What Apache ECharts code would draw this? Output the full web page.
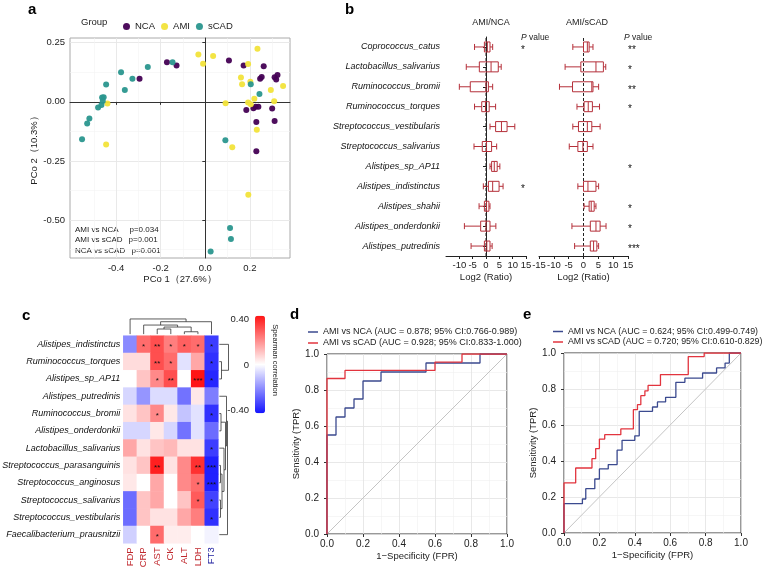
<!DOCTYPE html>
<html><head><meta charset="utf-8">
<script src="https://cdn.jsdelivr.net/npm/echarts@6/dist/echarts.min.js"></script>
<style>html,body{margin:0;padding:0;background:#fff}#c{width:765px;height:570px}</style>
</head><body><div id="c"></div>
<script>
const FONT = '"Liberation Sans", Arial, sans-serif';

// ---------- Panel a: PCoA ----------
const groups = ['NCA', 'AMI', 'sCAD'];
const ncaX = [-0.172,-0.129,-0.295,0.106,0.172,0.262,0.246,0.253,0.311,0.324,0.318,0.184,0.216,0.226,0.238,0.300,0.229,0.311,0.229];
const ncaY = [0.167,0.154,0.098,0.175,0.154,0.151,0.098,0.105,0.104,0.114,0.095,-0.034,-0.027,-0.021,-0.021,-0.028,-0.085,-0.081,-0.209];
const amiX = [-0.031,-0.010,0.035,0.234,0.192,0.160,0.165,0.202,0.349,0.294,0.309,0.091,0.192,0.204,0.220,0.231,-0.439,-0.445,0.121,0.193];
const amiY = [0.200,0.161,0.194,0.225,0.160,0.103,0.074,0.085,0.067,0.050,0.003,-0.006,-0.003,-0.010,0.013,-0.118,-0.007,-0.180,-0.192,-0.393];
const scadX = [-0.147,-0.258,-0.378,-0.327,-0.445,-0.361,-0.463,-0.456,-0.460,-0.481,-0.466,-0.520,-0.530,-0.553,0.090,0.204,0.243,0.111,0.115,0.024];
const scadY = [0.167,0.147,0.125,0.098,0.073,0.050,0.018,0.020,0.004,-0.024,-0.013,-0.070,-0.091,-0.158,-0.162,0.074,0.033,-0.533,-0.580,-0.632];
const pcoXMajor = [-0.4,-0.2,0,0.2];
const pcoXMinor = [-0.5,-0.3,-0.1,0.1,0.3];
const pcoYMajor = [-0.5,-0.25,0,0.25];
const pcoYMinor = [-0.625,-0.375,-0.125,0.125];
const permTests = ['AMI vs NCA','AMI vs sCAD','NCA vs sCAD'];
const permP = ['p=0.034','p=0.001','p=0.001'];

// ---------- Panel b: log2 ratio boxes ----------
const species = ['Coprococcus_catus','Lactobacillus_salivarius','Ruminococcus_bromii','Ruminococcus_torques','Streptococcus_vestibularis','Streptococcus_salivarius','Alistipes_sp_AP11','Alistipes_indistinctus','Alistipes_shahii','Alistipes_onderdonkii','Alistipes_putredinis'];
// [min, Q1, median, Q3, max]
const boxAmiNca = [[-4.3,-0.6,0.5,1.5,2.5],[-7.4,-2.5,1.9,4.6,5.7],[-10,-5.9,0,0.9,2.5],[-4.3,-1.6,-0.2,1.2,3.6],[1.5,3.6,5.8,7.9,10.8],[-4.5,-1.4,0.2,2.1,4],[1.5,2.1,3.1,4.2,5.2],[-1,0.9,2.5,4.9,6.4],[-2.6,-0.6,0.2,1.1,1.5],[-8.1,-2,0,1.5,3.7],[-5.6,-0.6,0.3,1.5,2.3]];
const boxAmiScad = [[-3.6,0,1.3,1.9,3.2],[-6.2,-0.9,4.2,6.7,7.5],[-8.1,-3.7,2.8,3.2,5.1],[-2.2,0.2,1.6,3,5.4],[-3.6,-1.7,1.3,2.8,5.6],[-4.8,-1.9,-0.2,1.3,3.2],null,[-1.9,0,1.5,4.2,5.1],[0.2,1.9,2.6,3.6,4.2],[-3.9,2.3,4.2,5.6,7.6],[-3,2.3,3.4,4.5,5.1]];
const starsAmiNca = ['*','','','','','','','*','','',''];
const starsAmiScad = ['**','*','**','*','','','*','','*','*','***'];

// ---------- Panel c: heatmap ----------
const hmRows = ['Alistipes_indistinctus','Ruminococcus_torques','Alistipes_sp_AP11','Alistipes_putredinis','Ruminococcus_bromii','Alistipes_onderdonkii','Lactobacillus_salivarius','Streptococcus_parasanguinis','Streptococcus_anginosus','Streptococcus_salivarius','Streptococcus_vestibularis','Faecalibacterium_prausnitzii'];
const hmCols = ['FDP','CRP','AST','CK','ALT','LDH','FT3'];
const hmValues = [
 [-0.20, 0.25, 0.30, 0.22, 0.27, 0.25,-0.33],
 [ 0.06, 0.06, 0.30, 0.25,-0.05, 0.15,-0.35],
 [ 0.00, 0.10, 0.20, 0.30, 0.00, 0.40,-0.37],
 [-0.07,-0.18,-0.06,-0.06,-0.24, 0.04,-0.22],
 [ 0.05, 0.10, 0.20, 0.04,-0.10,-0.05,-0.35],
 [-0.07,-0.07, 0.04,-0.07,-0.24,-0.05,-0.25],
 [ 0.15, 0.05, 0.10, 0.12, 0.05, 0.05,-0.33],
 [ 0.05, 0.10, 0.38, 0.05, 0.20, 0.35,-0.38],
 [ 0.04, 0.00, 0.15, 0.00, 0.20, 0.25,-0.38],
 [-0.25, 0.10, 0.15, 0.00, 0.10, 0.28,-0.32],
 [-0.25, 0.10, 0.05, 0.05, 0.15, 0.22,-0.35],
 [-0.08, 0.00, 0.25, 0.03, 0.03, 0.00,-0.02]
];
const hmStars = [
 ['','*','**','*','*','*','*'],
 ['','','**','*','','','*'],
 ['','','*','**','','***','*'],
 ['','','','','','',''],
 ['','','*','','','','*'],
 ['','','','','','',''],
 ['','','','','','','*'],
 ['','','**','','','**','***'],
 ['','','','','','*','***'],
 ['','','','','','*','*'],
 ['','','','','','','*'],
 ['','','*','','','','']
];
const colorbarTicks = ['0.40','0','-0.40'];
// dendrogram links: [posA, heightA, posB, heightB, mergeHeight]
const colDendro = [[2.5,0.8,3.5,0.8,3.4],[4.5,0.8,5.5,0.8,2.0],[3.0,3.4,5.0,2.0,4.4],[1.5,0.8,4.0,4.4,5.4],[2.75,5.4,6.5,0.8,7.1],[0.5,0.8,4.625,7.1,8.5]];
const rowDendro = [[1.5,0.3,2.5,0.3,2.5],[0.5,0.3,2.0,2.5,9.5],[4.5,0.3,5.5,0.3,2.0],[7.5,0.3,8.5,0.3,1.5],[9.5,0.3,10.5,0.3,1.5],[8.0,1.5,10.0,1.5,3.0],[6.5,0.3,9.0,3.0,5.0],[5.0,2.0,7.75,5.0,6.5],[3.5,0.3,6.375,6.5,7.5],[4.94,7.5,11.5,0.3,8.5]];

// ---------- Panels d, e: ROC ----------
const rocNames = {
  dNca: 'AMI vs NCA (AUC = 0.878; 95% CI:0.766-0.989)',
  dScad: 'AMI vs sCAD (AUC = 0.928; 95% CI:0.833-1.000)',
  eNca: 'AMI vs NCA (AUC = 0.624; 95% CI:0.499-0.749)',
  eScad: 'AMI vs sCAD (AUC = 0.720; 95% CI:0.610-0.829)'
};
const dNcaFpr = [0,0,0.05,0.1,0.15,0.2,0.3,0.55,0.85,1.0];
const dNcaTpr = [0,0.55,0.65,0.7,0.75,0.85,0.9,0.95,1.0,1.0];
const dScadFpr = [0,0,0.1,0.6,0.75,1.0];
const dScadTpr = [0,0.864,0.909,0.955,1.0,1.0];
const eNcaFpr = [0,0,0.104,0.123,0.174,0.2,0.25,0.3,0.328,0.4,0.425,0.5,0.528,0.574,0.632,0.683,0.783,0.862,0.91,0.934,1.0];
const eNcaTpr = [0,0.163,0.189,0.246,0.3,0.356,0.38,0.46,0.515,0.54,0.676,0.7,0.728,0.754,0.837,0.86,0.889,0.917,0.944,1.0,1.0];
const eScadFpr = [0,0,0.066,0.158,0.179,0.2,0.23,0.321,0.392,0.415,0.434,0.457,0.475,0.545,0.702,0.792,1.0];
const eScadTpr = [0,0.278,0.361,0.413,0.469,0.522,0.546,0.578,0.685,0.713,0.763,0.79,0.82,0.88,0.98,1.0,1.0];

// ---------- helpers ----------
const zip = (a, b) => a.map((v, i) => [v, b[i]]);
function steps(fx, ty) {
  const pts = [[fx[0], ty[0]]];
  for (let k = 1; k < fx.length; k++) { pts.push([fx[k], ty[k - 1]]); pts.push([fx[k], ty[k]]); }
  return pts;
}
const BOXC = '#B5303A';
function boxRenderer(boxes, stars, starDx) {
  return function (params, api) {
    const i = api.value(1);
    const b = boxes[i];
    const cs = params.coordSys;
    const yc = api.coord([0, i])[1];
    const st = { stroke: BOXC, lineWidth: 1, fill: 'none' };
    const ch = [];
    if (b) {
      const p = b.map(v => api.coord([v, i])[0]);
      const h = 10, cap = 6;
      ch.push({ type: 'line', shape: { x1: p[0], y1: yc, x2: p[1], y2: yc }, style: st });
      ch.push({ type: 'line', shape: { x1: p[3], y1: yc, x2: p[4], y2: yc }, style: st });
      ch.push({ type: 'line', shape: { x1: p[0], y1: yc - cap / 2, x2: p[0], y2: yc + cap / 2 }, style: st });
      ch.push({ type: 'line', shape: { x1: p[4], y1: yc - cap / 2, x2: p[4], y2: yc + cap / 2 }, style: st });
      ch.push({ type: 'rect', shape: { x: p[1], y: yc - h / 2, width: p[3] - p[1], height: h }, style: st });
      ch.push({ type: 'line', shape: { x1: p[2], y1: yc - h / 2, x2: p[2], y2: yc + h / 2 }, style: st });
    }
    if (stars[i]) {
      ch.push({ type: 'text', x: cs.x + cs.width + starDx, y: yc + 3,
        style: { text: stars[i], fill: '#111', fontSize: 10, fontFamily: FONT, align: 'left', verticalAlign: 'middle' } });
    }
    return { type: 'group', children: ch };
  };
}
function topLinks(links) { return links.map(l => ({ coords: [[l[0], l[1]], [l[0], l[4]], [l[2], l[4]], [l[2], l[3]]] })); }
function sideLinks(links) { return links.map(l => ({ coords: [[l[1], l[0]], [l[4], l[0]], [l[4], l[2]], [l[3], l[2]]] })); }

const txt = (s, x, y, extra) => Object.assign({ type: 'text', x, y, silent: true,
  style: Object.assign({ text: s, fill: '#222', fontSize: 9.5, fontFamily: FONT, align: 'left', verticalAlign: 'middle' }, extra || {}) });

const hmData = [];
hmValues.forEach((row, r) => row.forEach((v, c) => hmData.push([c, r, v])));

const gridBase = { containLabel: false, outerBoundsMode: 'none' };
const rocAxisX = (gi, nm) => ({
  gridIndex: gi, type: 'value', min: 0, max: 1, interval: 0.2,
  axisLine: { show: false }, axisTick: { show: true, length: 3, lineStyle: { color: '#333' } },
  axisLabel: { formatter: v => v.toFixed(1), fontSize: 10, color: '#222', margin: 5 },
  splitLine: { show: true, lineStyle: { color: '#e2e2e2', width: 0.8 } },
  minorTick: { show: false, splitNumber: 2 }, minorSplitLine: { show: true, lineStyle: { color: '#f0f0f0', width: 0.6 } },
  name: nm, nameLocation: 'middle', nameGap: 17, nameTextStyle: { fontSize: 9.5, color: '#222' }
});
const rocAxisY = (gi, nm) => ({
  gridIndex: gi, type: 'value', min: 0, max: 1, interval: 0.2,
  axisLine: { show: false }, axisTick: { show: true, length: 3, lineStyle: { color: '#333' } },
  axisLabel: { formatter: v => v.toFixed(1), fontSize: 10, color: '#222', margin: 8 },
  splitLine: { show: true, lineStyle: { color: '#e2e2e2', width: 0.8 } },
  minorTick: { show: false, splitNumber: 2 }, minorSplitLine: { show: true, lineStyle: { color: '#f0f0f0', width: 0.6 } },
  name: nm, nameLocation: 'middle', nameGap: 24, nameTextStyle: { fontSize: 9.5, color: '#222' }
});
const NAVY = '#3B4A8F', RED = '#E2343E';
const rocLine = (nm, xi, pts, color) => ({ type: 'line', name: nm, xAxisIndex: xi, yAxisIndex: xi + 2, data: pts, symbol: 'none',
  lineStyle: { color, width: 1.3 }, itemStyle: { color }, animation: false, z: 5 });

const option = {
  animation: false,
  backgroundColor: '#fff',
  textStyle: { fontFamily: FONT },
  grid: [
    Object.assign({ left: 70, top: 38, width: 220, height: 220, show: true, borderColor: '#aaa', borderWidth: 1 }, gridBase),
    Object.assign({ left: 446, top: 37, width: 80, height: 219 }, gridBase),
    Object.assign({ left: 539, top: 37, width: 89, height: 219 }, gridBase),
    Object.assign({ left: 123.3, top: 335.7, width: 95, height: 207.6 }, gridBase),
    Object.assign({ left: 123.3, top: 316, width: 95, height: 19.7 }, gridBase),
    Object.assign({ left: 219, top: 335.7, width: 10, height: 207.6 }, gridBase),
    Object.assign({ left: 327, top: 354, width: 180, height: 180, show: true, borderColor: '#333', borderWidth: 1 }, gridBase),
    Object.assign({ left: 564, top: 353, width: 177, height: 180, show: true, borderColor: '#333', borderWidth: 1 }, gridBase)
  ],
  xAxis: [
    { gridIndex: 0, type: 'value', min: -0.607, max: 0.38,
      axisLine: { show: true, lineStyle: { color: '#333' } },
      axisTick: { show: true, length: 3, customValues: pcoXMajor, lineStyle: { color: '#333' } },
      axisLabel: { customValues: pcoXMajor, formatter: v => v.toFixed(1), fontSize: 9.5, color: '#222', margin: 5 },
      splitLine: { show: true, lineStyle: { color: '#e6e6e6', width: 0.9 } },
      name: 'PCo 1（27.6%）', nameLocation: 'middle', nameGap: 16, nameTextStyle: { fontSize: 9.5, color: '#222' } },
    { gridIndex: 0, type: 'value', min: -0.607, max: 0.38, position: 'bottom',
      axisLine: { show: false }, axisTick: { show: false, customValues: pcoXMinor }, axisLabel: { show: false, customValues: pcoXMinor },
      splitLine: { show: true, lineStyle: { color: '#f3f3f3', width: 0.6 } } },
    { gridIndex: 1, type: 'value', min: -15, max: 15, interval: 5,
      axisLine: { show: true, lineStyle: { color: '#222' } }, axisTick: { show: true, length: 3, lineStyle: { color: '#222' } },
      axisLabel: { fontSize: 9.5, color: '#222', margin: 4, hideOverlap: false }, splitLine: { show: false },
      name: 'Log2 (Ratio)', nameLocation: 'middle', nameGap: 16, nameTextStyle: { fontSize: 9.5, color: '#222' } },
    { gridIndex: 2, type: 'value', min: -15, max: 15, interval: 5,
      axisLine: { show: true, lineStyle: { color: '#222' } }, axisTick: { show: true, length: 3, lineStyle: { color: '#222' } },
      axisLabel: { fontSize: 9.5, color: '#222', margin: 4, hideOverlap: false }, splitLine: { show: false },
      name: 'Log2 (Ratio)', nameLocation: 'middle', nameGap: 16, nameTextStyle: { fontSize: 9.5, color: '#222' } },
    { gridIndex: 3, type: 'category', data: hmCols, position: 'bottom',
      axisLine: { show: false }, axisTick: { show: false },
      axisLabel: { rotate: 90, margin: 4, interval: 0, hideOverlap: false,
        formatter: v => (v === 'FT3' ? '{b|' + v + '}' : '{r|' + v + '}'),
        rich: { r: { color: '#C0282D', fontSize: 9.5, fontFamily: FONT }, b: { color: '#2222A0', fontSize: 9.5, fontFamily: FONT } } } },
    { gridIndex: 4, type: 'value', min: 0, max: 7, show: false },
    { gridIndex: 5, type: 'value', min: 0, max: 10, show: false },
    rocAxisX(6, '1−Specificity (FPR)'),
    rocAxisX(7, '1−Specificity (FPR)')
  ],
  yAxis: [
    { gridIndex: 0, type: 'value', min: -0.66, max: 0.27,
      axisLine: { show: true, lineStyle: { color: '#333' } },
      axisTick: { show: true, length: 3, customValues: pcoYMajor, lineStyle: { color: '#333' } },
      axisLabel: { customValues: pcoYMajor, formatter: v => v.toFixed(2), fontSize: 9.5, color: '#222', margin: 5 },
      splitLine: { show: true, lineStyle: { color: '#e6e6e6', width: 0.9 } },
      name: 'PCo 2（10.3%）', nameLocation: 'middle', nameGap: 27, nameTextStyle: { fontSize: 9.5, color: '#222' } },
    { gridIndex: 0, type: 'value', min: -0.66, max: 0.27, position: 'left',
      axisLine: { show: false }, axisTick: { show: false, customValues: pcoYMinor }, axisLabel: { show: false, customValues: pcoYMinor },
      splitLine: { show: true, lineStyle: { color: '#f3f3f3', width: 0.6 } } },
    { gridIndex: 1, type: 'category', data: species, inverse: true,
      axisLine: { show: true, lineStyle: { color: '#222' } }, axisTick: { show: true, length: 3, alignWithLabel: true, lineStyle: { color: '#222' } },
      axisLabel: { fontStyle: 'italic', fontSize: 9, color: '#111', margin: 6, interval: 0 } },
    { gridIndex: 1, type: 'value', min: 0, max: 1, show: false },
    { gridIndex: 2, type: 'category', data: species, inverse: true, show: false },
    { gridIndex: 2, type: 'value', min: 0, max: 1, show: false },
    { gridIndex: 3, type: 'category', data: hmRows, inverse: true,
      axisLine: { show: false }, axisTick: { show: false },
      axisLabel: { fontStyle: 'italic', fontSize: 9, color: '#111', margin: 3, interval: 0 } },
    { gridIndex: 4, type: 'value', min: 0, max: 10, show: false },
    { gridIndex: 5, type: 'value', min: 0, max: 12, inverse: true, show: false },
    rocAxisY(6, 'Sensitivity (TPR)'),
    rocAxisY(7, 'Sensitivity (TPR)')
  ],
  legend: [
    { left: 118, top: 16.5, itemWidth: 7, itemHeight: 7, itemGap: 6, icon: 'circle', selectedMode: false,
      data: groups, textStyle: { fontSize: 9.5, color: '#222', fontFamily: FONT } },
    { left: 303, top: 322.5, orient: 'vertical', itemWidth: 10, itemHeight: 1.5, itemGap: 2, icon: 'rect', selectedMode: false,
      data: [rocNames.dNca, rocNames.dScad], textStyle: { fontSize: 9, color: '#222', fontFamily: FONT } },
    { left: 548, top: 322, orient: 'vertical', itemWidth: 10, itemHeight: 1.5, itemGap: 1.5, icon: 'rect', selectedMode: false,
      data: [rocNames.eNca, rocNames.eScad], textStyle: { fontSize: 8.8, color: '#222', fontFamily: FONT } }
  ],
  visualMap: {
    type: 'continuous', seriesIndex: 7, min: -0.4, max: 0.4, calculable: false, show: true,
    inRange: { color: ['#1414FF', '#FFFFFF', '#FF1414'] },
    left: 255, top: 315.7, itemWidth: 10, itemHeight: 97.6, padding: 0, orient: 'vertical', text: null, hoverLink: false
  },
  series: [
    { type: 'scatter', name: 'NCA', xAxisIndex: 0, yAxisIndex: 0, data: zip(ncaX, ncaY), symbolSize: 6, itemStyle: { color: '#440154', opacity: 0.95 } },
    { type: 'scatter', name: 'AMI', xAxisIndex: 0, yAxisIndex: 0, data: zip(amiX, amiY), symbolSize: 6, itemStyle: { color: '#F2E33A', opacity: 0.95 } },
    { type: 'scatter', name: 'sCAD', xAxisIndex: 0, yAxisIndex: 0, data: zip(scadX, scadY), symbolSize: 6, itemStyle: { color: '#2A968E', opacity: 0.95 } },
    { type: 'custom', xAxisIndex: 2, yAxisIndex: 2, renderItem: boxRenderer(boxAmiNca, starsAmiNca, -5),
      data: species.map((s, i) => [boxAmiNca[i] ? boxAmiNca[i][2] : 0, i]), encode: { x: 0, y: 1 }, clip: false, z: 4 },
    { type: 'line', xAxisIndex: 2, yAxisIndex: 3, data: [[0, 0], [0, 1]], symbol: 'none', lineStyle: { color: '#222', width: 1, type: [3, 2] }, z: 3 },
    { type: 'custom', xAxisIndex: 3, yAxisIndex: 4, renderItem: boxRenderer(boxAmiScad, starsAmiScad, 0),
      data: species.map((s, i) => [boxAmiScad[i] ? boxAmiScad[i][2] : 0, i]), encode: { x: 0, y: 1 }, clip: false, z: 4 },
    { type: 'line', xAxisIndex: 3, yAxisIndex: 5, data: [[0, 0], [0, 1]], symbol: 'none', lineStyle: { color: '#222', width: 1, type: [3, 2] }, z: 3 },
    { type: 'heatmap', xAxisIndex: 4, yAxisIndex: 6, data: hmData,
      label: { show: true, formatter: p => hmStars[p.value[1]][p.value[0]], fontSize: 8, color: '#111', fontFamily: FONT, offset: [0, 2] },
      itemStyle: { borderWidth: 0 }, emphasis: { disabled: true } },
    { type: 'lines', coordinateSystem: 'cartesian2d', xAxisIndex: 5, yAxisIndex: 7, polyline: true, data: topLinks(colDendro),
      lineStyle: { color: '#333', width: 0.8, opacity: 1 }, silent: true },
    { type: 'lines', coordinateSystem: 'cartesian2d', xAxisIndex: 6, yAxisIndex: 8, polyline: true, data: sideLinks(rowDendro),
      lineStyle: { color: '#333', width: 0.8, opacity: 1 }, silent: true },
    { type: 'line', xAxisIndex: 7, yAxisIndex: 9, data: [[0, 0], [1, 1]], symbol: 'none', lineStyle: { color: '#c4c4c4', width: 1 }, z: 3 },
    rocLine(rocNames.dNca, 7, steps(dNcaFpr, dNcaTpr), NAVY),
    rocLine(rocNames.dScad, 7, steps(dScadFpr, dScadTpr), RED),
    { type: 'line', xAxisIndex: 8, yAxisIndex: 10, data: [[0, 0], [1, 1]], symbol: 'none', lineStyle: { color: '#c4c4c4', width: 1 }, z: 3 },
    rocLine(rocNames.eNca, 8, steps(eNcaFpr, eNcaTpr), NAVY),
    rocLine(rocNames.eScad, 8, steps(eScadFpr, eScadTpr), RED)
  ],
  graphic: [
    txt('a', 28, 10, { fontSize: 15, fontWeight: 'bold', fill: '#000' }),
    txt('b', 345, 10, { fontSize: 15, fontWeight: 'bold', fill: '#000' }),
    txt('c', 22, 315.5, { fontSize: 15, fontWeight: 'bold', fill: '#000' }),
    txt('d', 290, 315, { fontSize: 15, fontWeight: 'bold', fill: '#000' }),
    txt('e', 523, 315, { fontSize: 15, fontWeight: 'bold', fill: '#000' }),
    txt('Group', 81, 22),
    txt(permTests[0], 75, 229.5, { fontSize: 8 }), txt(permP[0], 129.5, 229.5, { fontSize: 8 }),
    txt(permTests[1], 75, 240, { fontSize: 8 }), txt(permP[1], 128.5, 240, { fontSize: 8 }),
    txt(permTests[2], 75, 250.7, { fontSize: 8 }), txt(permP[2], 131.5, 250.7, { fontSize: 8 }),
    txt('AMI/NCA', 491, 23, { fontSize: 9, align: 'center' }),
    txt('AMI/sCAD', 587, 23, { fontSize: 9, align: 'center' }),
    txt('{i|P} value', 521, 38, { fontSize: 8.5, rich: { i: { fontStyle: 'italic', fontSize: 8.5, fontFamily: FONT, fill: '#222' } } }),
    txt('{i|P} value', 624, 38, { fontSize: 8.5, rich: { i: { fontStyle: 'italic', fontSize: 8.5, fontFamily: FONT, fill: '#222' } } }),
    txt(colorbarTicks[0], 249, 319.5, { align: 'right' }),
    txt(colorbarTicks[1], 249, 365, { align: 'right' }),
    txt(colorbarTicks[2], 249, 410.5, { align: 'right' }),
    Object.assign(txt('Spearman correlation', 275, 360, { fontSize: 7.5, align: 'center' }), { rotation: -Math.PI / 2 })
  ]
};

const chart = echarts.init(document.getElementById('c'), null, { renderer: 'canvas', width: 765, height: 570 });
chart.setOption(option);
</script>
</body></html>
